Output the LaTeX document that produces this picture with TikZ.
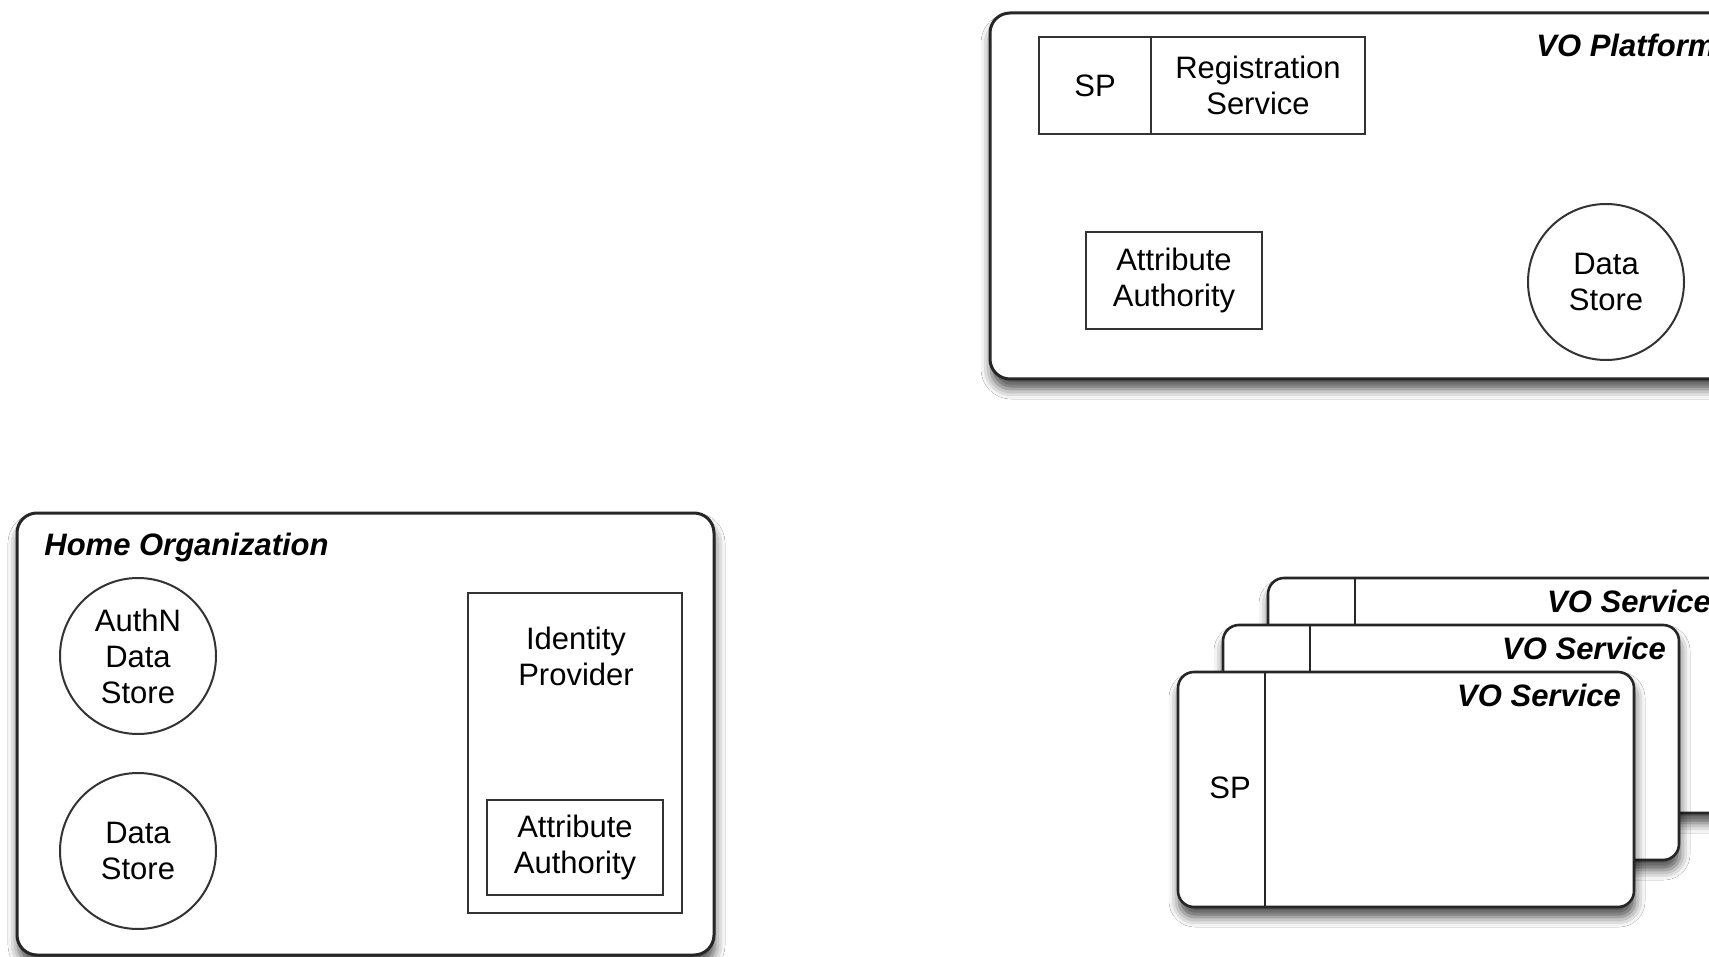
\documentclass[tikz,border=0pt]{standalone}
\usepackage{fontspec}
\setmainfont{Liberation Sans}
\usetikzlibrary{shadows.blur}
\begin{document}
\begin{tikzpicture}[x=0.5pt,y=-0.5pt,
  every node/.style={font=\fontsize{15.5}{18}\selectfont, align=center, inner sep=0pt},
  outer/.style={draw=black!85, line width=1.5pt, rounded corners=10pt, fill=white,
     blur shadow={shadow xshift=0.5pt, shadow yshift=-5pt, shadow blur radius=5pt, shadow opacity=70}},
  card/.style={draw=black!85, line width=1.3pt, rounded corners=8pt, fill=white,
     minimum width=228pt, minimum height=117.5pt,
     blur shadow={shadow xshift=0.5pt, shadow yshift=-5pt, shadow blur radius=5pt, shadow opacity=70}},
  inbox/.style={draw=black!80, line width=1pt, fill=white},
  store/.style={draw=black!80, line width=1pt, circle, minimum size=78pt},
  ttl/.style={font=\fontsize{15.5}{18}\selectfont\bfseries\itshape},
  divline/.style={draw=black!85, line width=1.2pt}
]
\useasboundingbox (0,0) rectangle (1709,957);
\clip (0,0) rectangle (1709,957);
\fill[white] (0,0) rectangle (1709,957);

% ---------- VO Platform ----------
\node[outer, minimum width=385pt, minimum height=183pt] (vop) at (1375,196) {};
\node[ttl, anchor=west] (voptitle) at (1536,45) {VO Platform};
\node[inbox, minimum width=56pt, minimum height=48.5pt] (vsp) at (1095,85.5) {SP};
\node[inbox, minimum width=107pt, minimum height=48.5pt] (reg) at (1258,85.5) {Registration\\Service};
\node[inbox, minimum width=88pt, minimum height=48.5pt] (vaa) at (1174,280.5) {Attribute\\Authority};
\node[store] (vds) at (1606,282) {Data\\Store};

% ---------- Home Organization ----------
\node[outer, minimum width=348.5pt, minimum height=221pt] (home) at (365.5,734) {};
\node[ttl, anchor=west] (hometitle) at (44,547) {Home Organization};
\node[store] (authn) at (138,656) {AuthN\\Data\\Store};
\node[store] (hds) at (138,851) {Data\\Store};
\node[inbox, minimum width=107pt, minimum height=160pt] (idp) at (575,753) {};
\node (idptext) at (576,656) {Identity\\Provider};
\node[inbox, minimum width=88pt, minimum height=47.5pt] (haa) at (575,847.5) {Attribute\\Authority};

% ---------- VO Service stack ----------
\node[card] (c3) at (1496,695.5) {};
\draw[divline] ([xshift=44pt]c3.north west) -- ([xshift=44pt]c3.south west);
\node[ttl, anchor=east] (t3) at ([xshift=-7pt,yshift=-12.5pt]c3.north east) {VO Service};

\node[card] (c2) at (1451,742.5) {};
\draw[divline] ([xshift=44pt]c2.north west) -- ([xshift=44pt]c2.south west);
\node[ttl, anchor=east] (t2) at ([xshift=-7pt,yshift=-12.5pt]c2.north east) {VO Service};

\node[card] (c1) at (1406,789.5) {};
\draw[divline] ([xshift=44pt]c1.north west) -- ([xshift=44pt]c1.south west);
\node[ttl, anchor=east] (t1) at ([xshift=-7pt,yshift=-12.5pt]c1.north east) {VO Service};
\node (csp) at (1230,788) {SP};
\end{tikzpicture}
\end{document}
